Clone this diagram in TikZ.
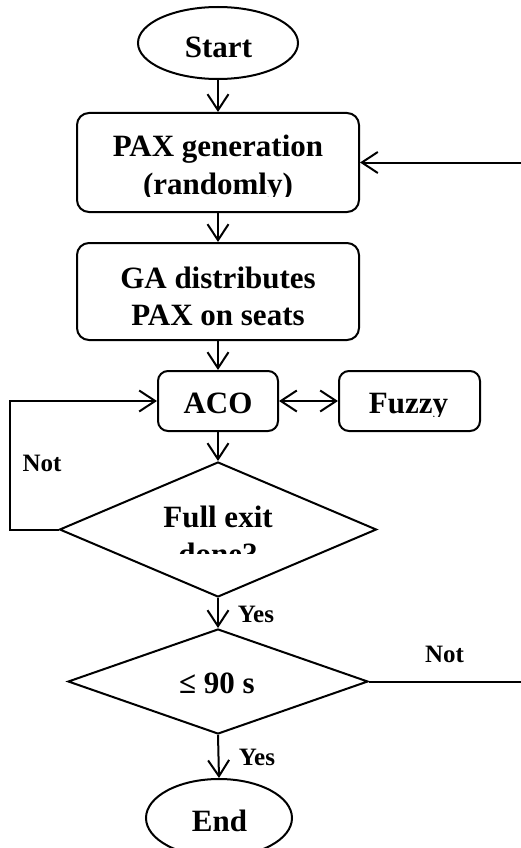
\documentclass[tikz,border=0pt]{standalone}
\usepackage{fontspec}
\setmainfont{Liberation Serif}
\usetikzlibrary{shapes.geometric,arrows.meta}
\begin{document}
\begin{tikzpicture}[x=1pt,y=-1pt,
  line width=2pt,
  tipb/.tip={Straight Barb[length=16pt,width=21pt]},
  arr/.style={-tipb},
  darr/.style={tipb-tipb},
  rbox/.style={draw, rounded corners=12pt, inner sep=0pt},
  oval/.style={draw, ellipse, inner sep=0pt},
  dec/.style={draw, diamond, inner sep=0pt},
  txt/.style={font=\fontsize{31}{37}\selectfont\bfseries, inner sep=0pt, anchor=base},
  lbl/.style={font=\fontsize{25}{30}\selectfont\bfseries, inner sep=0pt, anchor=base}]
\useasboundingbox (0,0) rectangle (521,848);
\clip (0,0) rectangle (521,848);
% shapes
\node[oval, minimum width=160pt, minimum height=72pt] (start) at (218,43) {};
\node[rbox, minimum width=282pt, minimum height=99pt] (pax) at (218,162.5) {};
\node[rbox, minimum width=282pt, minimum height=97pt] (ga) at (218,291.5) {};
\node[rbox, rounded corners=10pt, minimum width=120pt, minimum height=60pt] (aco) at (218,401) {};
\node[rbox, rounded corners=10pt, minimum width=141pt, minimum height=60pt] (fuzzy) at (409.5,401) {};
\node[dec, minimum width=317pt, minimum height=135pt] (d1) at (218,529.5) {};
\node[dec, minimum width=300pt, minimum height=105pt] (d2) at (218,681.5) {};
\node[oval, minimum width=146pt, minimum height=78pt] (end) at (219,818) {};
% texts
\node[txt] (startt) at (218.5,58) {Start};
\node[txt] (paxt1) at (218,157) {PAX generation};
\begin{scope}
  \clip (80,166) rectangle (356,196.5);
  \node[txt] (paxt2) at (218,194) {(randomly)};
\end{scope}
\node[txt] (gat1) at (218,288) {GA distributes};
\node[txt] (gat2) at (218,325) {PAX on seats};
\node[txt] (acot) at (218,413) {ACO};
\begin{scope}
  \clip (342,374) rectangle (477,416);
  \node[txt] (fuzzyt) at (408.5,413) {Fuzzy};
\end{scope}
\node[txt] (fullt1) at (218,527) {Full exit};
\begin{scope}
  \clip (120,532) rectangle (316,553);
  \node[txt] (fullt2) at (218,564) {done?};
\end{scope}
\node[txt] (d2t) at (217,693) {≤ 90 s};
\node[txt] (endt) at (219.5,831) {End};
% labels
\node[lbl] (not1) at (42,471) {Not};
\node[lbl] (yes1) at (256,622) {Yes};
\node[lbl] (not2) at (444.5,662) {Not};
\node[lbl] (yes2) at (257,765) {Yes};
% connectors
\coordinate (lft) at (10,0);
\coordinate (rgt) at (530,0);
\draw[arr] (start.south) -- (pax.north);
\draw[arr] (pax.south) -- (ga.north);
\draw[arr] (ga.south) -- (aco.north);
\draw[darr] (aco.east) -- (fuzzy.west);
\draw[arr] (aco.south) -- (d1.north);
\draw[arr] (d1.south) -- (d2.north);
\draw[arr] (d2.south) -- (end.north);
\draw[arr] (d1.west) -- (d1.west -| lft) |- (aco.west);
\draw[arr] (d2.east) -- (d2.east -| rgt) |- (pax.east);
\end{tikzpicture}
\end{document}
